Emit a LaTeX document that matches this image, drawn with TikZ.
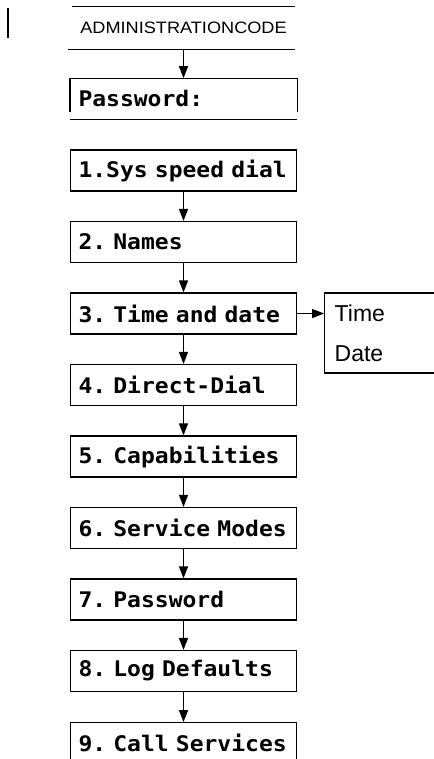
\documentclass[tikz,border=0pt]{standalone}
\usepackage{fontspec}
\font\dotfont="DejaVu Sans Mono Bold:extend=1.07" at 21.5pt
\newcommand\dotstyle{\dotfont\frenchspacing}
\newfontfamily\plainfont{Liberation Sans}
\newfontfamily\headfont[FakeStretch=1.1]{Liberation Sans}
\usetikzlibrary{arrows.meta, positioning}
\tikzset{
  menu/.style={draw, line width=1.2pt, minimum width=226pt, minimum height=41pt, inner xsep=8pt,
    text width=210pt, align=left, font=\dotstyle,
    execute at begin node=\hbox\bgroup, execute at end node=\egroup},
  sub/.style={draw, line width=1.2pt, minimum width=150pt, minimum height=80pt, inner xsep=10pt,
    text width=130pt, align=left, font=\plainfont\fontsize{23}{40}\selectfont},
  head/.style={minimum width=223pt, minimum height=42pt, font=\headfont\fontsize{16.5}{19}\selectfont},
  arr/.style={-{Triangle[length=12pt, width=9pt]}, line width=1.3pt},
}

\begin{document}
\begin{tikzpicture}[x=1pt, y=-1pt, node distance=29.3pt]
  \useasboundingbox (0,0) rectangle (433,759);
  \draw[line width=1.1pt] (8,8) -- (8,38);
  \node[head] (admin) at (183.5,28) {ADMINISTRATIONCODE};
  \draw[line width=1.3pt] (admin.north west) -- (admin.north east);
  \draw[line width=1.3pt] ([xshift=-4pt]admin.south west) -- (admin.south east);
  \node[menu, draw=none, minimum height=40pt, below=29pt of admin.south, anchor=north] (pw) {Password:};
  \draw[line width=1.2pt] ([yshift=7pt]pw.south west) |- (pw.north east) -- ([yshift=7pt]pw.south east);
  \draw[line width=1.3pt] (pw.south west) -- (pw.south east);
  \node[menu, below=30pt of pw] (box1) {1.Sys speed dial};
  \node[menu, below=of box1] (box2) {2. Names};
  \node[menu, below=of box2] (box3) {3. Time and date};
  \node[menu, below=of box3] (box4) {4. Direct-Dial};
  \node[menu, below=of box4] (box5) {5. Capabilities};
  \node[menu, below=of box5] (box6) {6. Service Modes};
  \node[menu, below=of box6] (box7) {7. Password};
  \node[menu, below=of box7] (box8) {8. Log Defaults};
  \node[menu, below=30pt of box8] (box9) {9. Call Services};
  \node[sub, right=27pt of box3.north east, anchor=north west] (td) {Time\\Date};
  \draw[arr] (admin.south) -- (pw.north);
  \draw[arr] (box1) -- (box2);
  \draw[arr] (box2) -- (box3);
  \draw[arr] (box3) -- (box4);
  \draw[arr] (box4) -- (box5);
  \draw[arr] (box5) -- (box6);
  \draw[arr] (box6) -- (box7);
  \draw[arr] (box7) -- (box8);
  \draw[arr] (box8) -- (box9);
  \draw[arr] (box3.east) -- (box3.east -| td.west);
\end{tikzpicture}
\end{document}
